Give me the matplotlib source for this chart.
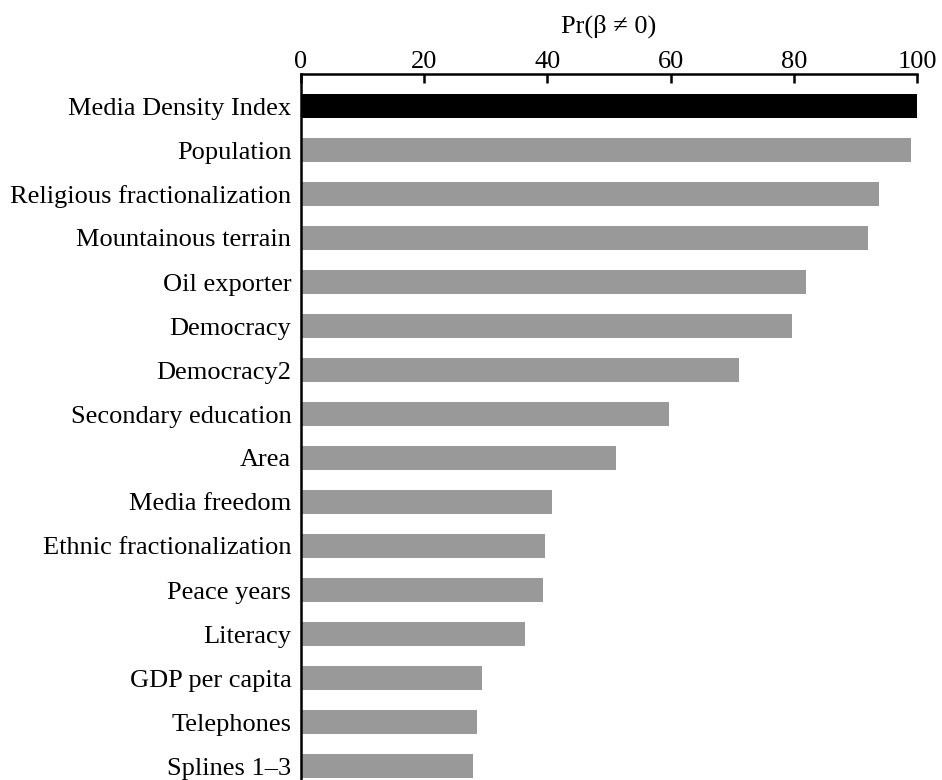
import matplotlib
matplotlib.use("Agg")
import matplotlib.pyplot as plt

labels = [
    "Media Density Index",
    "Population",
    "Religious fractionalization",
    "Mountainous terrain",
    "Oil exporter",
    "Democracy",
    "Democracy2",
    "Secondary education",
    "Area",
    "Media freedom",
    "Ethnic fractionalization",
    "Peace years",
    "Literacy",
    "GDP per capita",
    "Telephones",
    "Splines 1\u20133",
]
values = [100.0, 99.0, 93.8, 92.0, 82.0, 79.7, 71.1, 59.7, 51.1,
          40.7, 39.6, 39.3, 36.4, 29.4, 28.6, 27.9]
ticks = [0, 20, 40, 60, 80, 100]

plt.rcParams["font.family"] = ["Liberation Serif", "DejaVu Serif"]

fig = plt.figure(figsize=(9.42, 7.8), dpi=100)
# axis line sits at y=74 px, bars spaced 44 px starting at 106 px
ax = fig.add_axes([301 / 942, 0.0, 616 / 942, 1 - 74 / 780])

colors = ["#000000"] + ["#999999"] * (len(values) - 1)
ypos = list(range(len(values)))
ax.barh(ypos, values, height=0.56, color=colors, zorder=2)

ax.set_xlim(0, 100)
ax.set_ylim(674 / 44, -32 / 44)
ax.set_yticks(ypos)
ax.set_yticklabels(labels, fontsize=19)
ax.tick_params(axis="y", length=0, pad=7)

ax.xaxis.tick_top()
ax.xaxis.set_label_position("top")
ax.set_xticks(ticks)
ax.set_xticklabels([str(t) for t in ticks], fontsize=19)
ax.tick_params(axis="x", direction="in", length=6.5, width=1.8, pad=1)
ax.set_xlabel("Pr(\u03b2 \u2260 0)", fontsize=19, labelpad=13)

for side in ["right", "bottom"]:
    ax.spines[side].set_visible(False)
for side in ["top", "left"]:
    ax.spines[side].set_linewidth(1.8)

fig.savefig("out.png", dpi=100)
